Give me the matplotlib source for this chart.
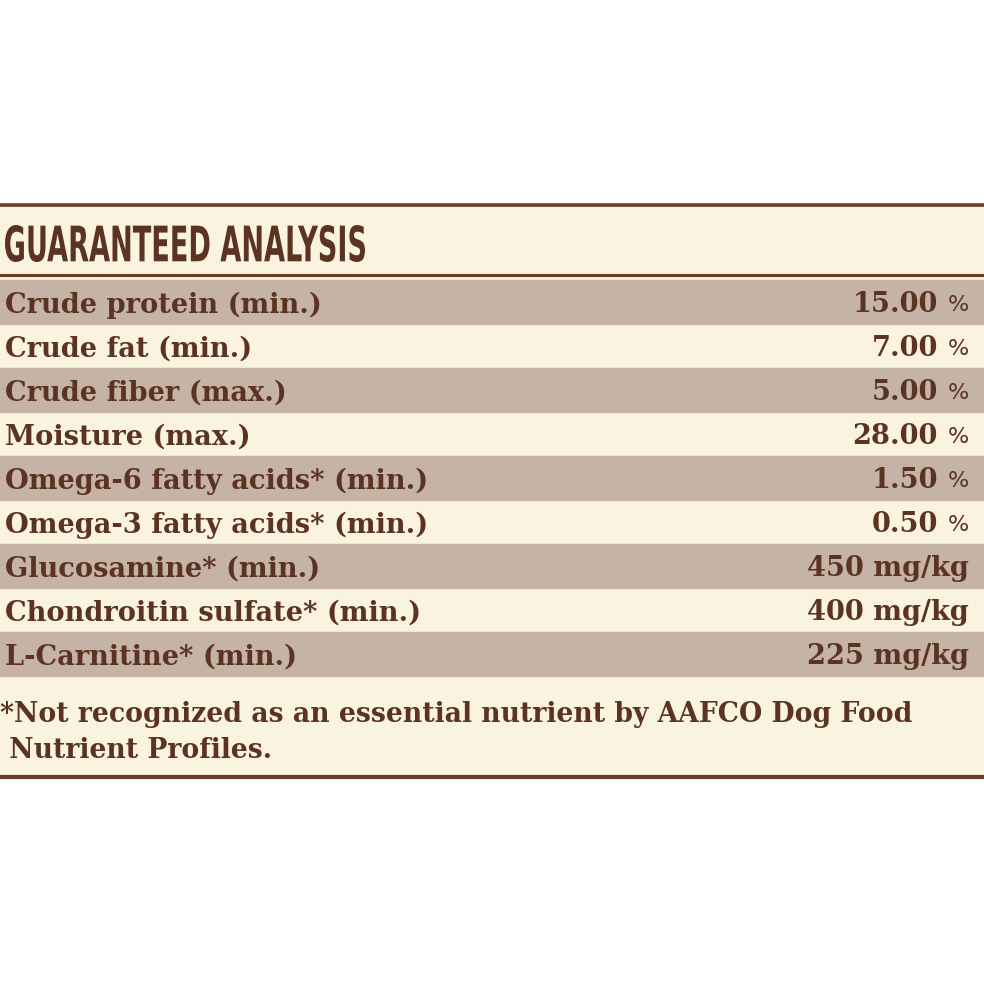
import matplotlib
matplotlib.use("Agg")
import matplotlib.pyplot as plt
from matplotlib.textpath import TextPath
from matplotlib.font_manager import FontProperties
from matplotlib.patches import PathPatch, Rectangle
from matplotlib.transforms import Affine2D

# table contents
title = "GUARANTEED ANALYSIS"
nutrients = ["Crude protein (min.)", "Crude fat (min.)", "Crude fiber (max.)",
             "Moisture (max.)", "Omega-6 fatty acids* (min.)",
             "Omega-3 fatty acids* (min.)", "Glucosamine* (min.)",
             "Chondroitin sulfate* (min.)", "L-Carnitine* (min.)"]
amounts = ["15.00", "7.00", "5.00", "28.00", "1.50", "0.50", "450", "400", "225"]
units = ["%", "%", "%", "%", "%", "%", "mg/kg", "mg/kg", "mg/kg"]
footnote = ["*Not recognized as an essential nutrient by AAFCO Dog Food",
            " Nutrient Profiles."]

cream = "#FAF3DF"
shade = "#C5B4A6"
brown = "#5B3322"
rule = "#6A3E27"

fig = plt.figure(figsize=(9.84, 9.84), dpi=100)
ax = fig.add_axes([0, 0, 1, 1])
ax.set_xlim(0, 984)
ax.set_ylim(984, 0)
ax.axis("off")

top, bottom = 205, 777
row_top, row_h = 280, 44

ax.add_patch(Rectangle((0, top), 984, bottom - top, color=cream, zorder=0))
for i in range(len(nutrients)):
    if i % 2 == 0:
        ax.add_patch(Rectangle((0, row_top + i * row_h), 984, row_h, color=shade, zorder=1))

ax.plot([0, 984], [top, top], color=rule, lw=2.6, zorder=3)
ax.plot([0, 984], [275, 275], color=rule, lw=2.2, zorder=3)
ax.plot([0, 984], [bottom, bottom], color=rule, lw=3.0, zorder=3)

# header in a condensed bold face, fitted to the box
fp = FontProperties(family="DejaVu Sans", weight="bold")
tp = TextPath((0, 0), title, prop=fp, size=10)
ext = tp.get_extents()
sx = 360 / ext.width
sy = 37 / ext.height
tr = Affine2D().translate(-ext.x0, -ext.y0).scale(sx, -sy).translate(5, 262)
ax.add_patch(PathPatch(tr.transform_path(tp), color=brown, lw=0, zorder=4))

fs = 19.6
serif = dict(family="DejaVu Serif", weight="bold", color=brown, zorder=4)
for i, (name, amt, unit) in enumerate(zip(nutrients, amounts, units)):
    yc = row_top + i * row_h + row_h / 2
    ax.text(5, yc, name, fontsize=fs, ha="left", va="center_baseline", **serif)
    if unit == "%":
        ax.text(938, yc, amt, fontsize=fs, ha="right", va="center_baseline", **serif)
        ax.text(969, yc + 1, unit, fontsize=16, ha="right", va="center_baseline",
                family="DejaVu Sans", color=brown, zorder=4)
    else:
        ax.text(969, yc, amt + " " + unit, fontsize=fs, ha="right",
                va="center_baseline", **serif)

for j, line in enumerate(footnote):
    ax.text(0, 711 + j * 36, line, fontsize=19.2, ha="left", va="center_baseline", **serif)

fig.savefig("out.png", dpi=100, facecolor="white")
